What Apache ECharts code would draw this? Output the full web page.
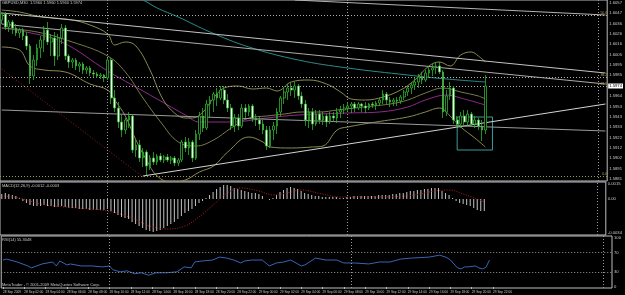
<!DOCTYPE html>
<html><head><meta charset="utf-8">
<script src="https://cdn.jsdelivr.net/npm/echarts@6/dist/echarts.min.js"></script>
<style>html,body{margin:0;padding:0;background:#000;}#c{width:625px;height:295px;}</style>
</head><body><div id="c"></div>
<script>
// ---------- data ----------
const timeLabels = ['28 Sep 2009','28 Sep 02:00','28 Sep 04:00','28 Sep 06:00','28 Sep 08:00','28 Sep 10:00','28 Sep 12:00','28 Sep 14:00','28 Sep 16:00','28 Sep 18:00','28 Sep 20:00','28 Sep 22:00','29 Sep 00:00','29 Sep 02:00','29 Sep 04:00','29 Sep 06:00','29 Sep 08:00','29 Sep 10:00','29 Sep 12:00','29 Sep 14:00','29 Sep 16:00','29 Sep 18:00','29 Sep 20:00','29 Sep 22:00'];

const opens = [1.6040,1.6046,1.6033,1.6038,1.6032,1.6027,1.6030,1.6024,1.6014,1.5984,
1.6000,1.6012,1.6020,1.6030,1.6018,1.6022,1.6004,1.6022,1.6032,1.6004,
1.5998,1.6000,1.5994,1.5996,1.5990,1.5992,1.5987,1.5986,1.5984,1.5985,
1.5982,1.6000,1.5962,1.5952,1.5938,1.5930,1.5940,1.5944,1.5910,1.5915,
1.5902,1.5908,1.5894,1.5902,1.5898,1.5904,1.5900,1.5903,1.5900,1.5902,
1.5897,1.5900,1.5918,1.5912,1.5918,1.5902,1.5926,1.5944,1.5932,1.5956,
1.5960,1.5966,1.5962,1.5970,1.5960,1.5952,1.5934,1.5942,1.5934,1.5952,
1.5948,1.5954,1.5942,1.5940,1.5936,1.5930,1.5914,1.5930,1.5934,1.5948,
1.5962,1.5968,1.5972,1.5970,1.5974,1.5964,1.5956,1.5940,1.5948,1.5936,
1.5946,1.5940,1.5944,1.5938,1.5944,1.5942,1.5948,1.5950,1.5952,1.5954,
1.5956,1.5952,1.5956,1.5954,1.5952,1.5956,1.5955,1.5957,1.5960,1.5966,
1.5960,1.5958,1.5960,1.5959,1.5963,1.5968,1.5972,1.5975,1.5978,1.5983,
1.5980,1.5987,1.5990,1.5992,1.5994,1.5988,1.5948,1.5964,1.5972,1.5940,
1.5936,1.5944,1.5938,1.5946,1.5936,1.5940,1.5934,1.5930];
const highs = [1.6048,1.6048,1.6040,1.6040,1.6036,1.6032,1.6032,1.6028,1.6016,1.6005,
1.6016,1.6024,1.6034,1.6038,1.6026,1.6028,1.6026,1.6036,1.6035,1.6006,
1.6002,1.6002,1.5998,1.5998,1.5994,1.5994,1.5990,1.5988,1.5987,1.5986,
1.6002,1.6002,1.5970,1.5958,1.5945,1.5942,1.5948,1.5946,1.5920,1.5920,
1.5912,1.5910,1.5905,1.5908,1.5906,1.5907,1.5905,1.5906,1.5904,1.5904,
1.5902,1.5920,1.5923,1.5922,1.5920,1.5930,1.5948,1.5952,1.5960,1.5964,
1.5968,1.5972,1.5974,1.5974,1.5966,1.5956,1.5946,1.5946,1.5956,1.5956,
1.5956,1.5956,1.5946,1.5944,1.5940,1.5934,1.5934,1.5938,1.5952,1.5964,
1.5972,1.5976,1.5978,1.5978,1.5976,1.5968,1.5960,1.5952,1.5952,1.5950,
1.5950,1.5948,1.5946,1.5948,1.5948,1.5952,1.5954,1.5956,1.5958,1.5958,
1.5958,1.5958,1.5957,1.5958,1.5957,1.5958,1.5959,1.5962,1.5970,1.5968,
1.5963,1.5962,1.5963,1.5965,1.5970,1.5974,1.5978,1.5982,1.5986,1.5988,
1.5990,1.5994,1.5996,1.5998,1.5998,1.5990,1.5970,1.5978,1.5974,1.5944,
1.5948,1.5950,1.5950,1.5948,1.5944,1.5942,1.5940,1.5985];
const lows = [1.6036,1.6030,1.6028,1.6026,1.6024,1.6022,1.6020,1.6010,1.5976,1.5980,
1.5994,1.6002,1.6008,1.6015,1.6004,1.5994,1.6000,1.6016,1.6000,1.5992,
1.5992,1.5990,1.5988,1.5986,1.5986,1.5984,1.5983,1.5982,1.5981,1.5978,
1.5980,1.5956,1.5948,1.5932,1.5923,1.5926,1.5932,1.5907,1.5903,1.5898,
1.5893,1.5885,1.5890,1.5895,1.5895,1.5898,1.5897,1.5898,1.5896,1.5894,
1.5894,1.5898,1.5908,1.5905,1.5898,1.5900,1.5920,1.5928,1.5930,1.5942,
1.5948,1.5954,1.5960,1.5956,1.5948,1.5930,1.5928,1.5930,1.5932,1.5942,
1.5944,1.5938,1.5934,1.5930,1.5926,1.5910,1.5912,1.5920,1.5926,1.5944,
1.5956,1.5960,1.5964,1.5962,1.5960,1.5952,1.5934,1.5932,1.5930,1.5934,
1.5936,1.5935,1.5933,1.5936,1.5938,1.5937,1.5942,1.5946,1.5948,1.5947,
1.5948,1.5950,1.5948,1.5947,1.5950,1.5952,1.5950,1.5954,1.5956,1.5956,
1.5953,1.5954,1.5954,1.5956,1.5960,1.5964,1.5966,1.5970,1.5972,1.5976,
1.5978,1.5982,1.5984,1.5986,1.5986,1.5942,1.5944,1.5960,1.5936,1.5932,
1.5932,1.5934,1.5934,1.5933,1.5932,1.5930,1.5919,1.5926];
const closes = [1.6046,1.6033,1.6038,1.6032,1.6027,1.6030,1.6024,1.6014,1.5984,1.6000,
1.6012,1.6020,1.6030,1.6018,1.6022,1.6004,1.6022,1.6032,1.6004,1.5998,
1.6000,1.5994,1.5996,1.5990,1.5992,1.5987,1.5986,1.5984,1.5985,1.5982,
1.6000,1.5962,1.5952,1.5938,1.5930,1.5940,1.5944,1.5910,1.5915,1.5902,
1.5908,1.5894,1.5902,1.5898,1.5904,1.5900,1.5903,1.5900,1.5902,1.5897,
1.5900,1.5918,1.5912,1.5918,1.5902,1.5926,1.5944,1.5932,1.5956,1.5960,
1.5966,1.5962,1.5970,1.5960,1.5952,1.5934,1.5942,1.5934,1.5952,1.5948,
1.5954,1.5942,1.5940,1.5936,1.5930,1.5914,1.5930,1.5934,1.5948,1.5962,
1.5968,1.5972,1.5970,1.5974,1.5964,1.5956,1.5940,1.5948,1.5936,1.5946,
1.5940,1.5944,1.5938,1.5944,1.5942,1.5948,1.5950,1.5952,1.5954,1.5956,
1.5952,1.5956,1.5954,1.5952,1.5956,1.5955,1.5957,1.5960,1.5966,1.5960,
1.5958,1.5960,1.5959,1.5963,1.5968,1.5972,1.5975,1.5978,1.5983,1.5980,
1.5987,1.5990,1.5992,1.5994,1.5988,1.5948,1.5964,1.5972,1.5940,1.5936,
1.5944,1.5938,1.5946,1.5936,1.5940,1.5934,1.5930,1.5974];

const priceTicks = [1.6057,1.6047,1.6036,1.6026,1.6016,1.6005,1.5995,1.5985,1.5964,1.5953,1.5943,1.5933,1.5922,1.5912,1.5902,1.5891,1.5881];
const lastPrice = 1.5974;
const fibValues = [1.6045, 1.5983, 1.5974, 1.5884];
const fibNames = ['50.0', '38.2', '23.6', '0.0'];
const separatorIdx = [30, 98, 169];
const boxIdx = [129, 139];
const boxPrice = [1.5943, 1.5910];

const bbUpIdx = [0,5,10,15,20,25,30,32,35,38,42,45,48,52,54,57,60,63,67,71,75,78,82,87,92,96,99,103,108,113,117,121,124,127,130,133,135,137];
const bbUpVal = [1.6050,1.6048,1.6044,1.6042,1.6040,1.6035,1.6026,1.6015,1.6018,1.6014,1.5990,1.5965,1.5950,1.5942,1.5942,1.5948,1.5962,1.5972,1.5974,1.5971,1.5972,1.5969,1.5978,1.5980,1.5976,1.5968,1.5961,1.5960,1.5963,1.5970,1.5980,1.5994,1.5998,1.5994,1.6005,1.6008,1.6004,1.5998];
const bbMidIdx = [0,10,20,30,35,40,45,50,55,60,65,70,75,80,85,90,95,100,105,110,115,120,125,130,135,137];
const bbMidVal = [1.6032,1.6028,1.6018,1.6004,1.5988,1.5962,1.5938,1.5918,1.5914,1.5920,1.5932,1.5942,1.5944,1.5946,1.5948,1.5948,1.5950,1.5952,1.5954,1.5956,1.5960,1.5967,1.5972,1.5968,1.5964,1.5961];
const bbLowIdx = [0,5,8,12,18,25,30,32,35,38,41,44,48,52,56,60,64,70,74,76,82,88,91,95,98,106,115,120,124,127,130,134,137];
const bbLowVal = [1.6013,1.6010,1.5994,1.5990,1.5988,1.5976,1.5970,1.5960,1.5944,1.5920,1.5900,1.5884,1.5878,1.5880,1.5888,1.5894,1.5908,1.5923,1.5918,1.5913,1.5912,1.5913,1.5914,1.5930,1.5933,1.5938,1.5943,1.5948,1.5952,1.5944,1.5933,1.5922,1.5913];
const maIdx = [0,7,17,30,40,48,52,56,65,75,84,98,107,115,120,126,130,137];
const maVal = [1.6032,1.6028,1.6018,1.5989,1.5969,1.5953,1.5945,1.5938,1.5938,1.5942,1.5945,1.5947,1.5948,1.5953,1.5960,1.5965,1.5962,1.5955];
const longMaIdx = [33,40,44,50,59,70,84,98,115,126,137];
const longMaVal = [1.6070,1.6060,1.6052,1.6043,1.6028,1.6013,1.6000,1.5992,1.5985,1.5981,1.5978];

// trendlines: start index, start price, end index, end price
const tlStartIdx = [83, 0, 0, 40, 0];
const tlStartVal = [1.6060, 1.6047, 1.6036, 1.5884, 1.5950];
const tlEndIdx = [171, 171, 171, 171, 171];
const tlEndVal = [1.6045, 1.5987, 1.5976, 1.5956, 1.5929];
const redLineIdx = [0, 40];
const redLineVal = [1.5991, 1.5883];

const macdHist = [0.0005,0.0006,0.0005,0.0004,0.0003,0.0001,-0.0002,-0.0004,-0.0006,-0.0007,
-0.0007,-0.0007,-0.0006,-0.0007,-0.0007,-0.0008,-0.0008,-0.0007,-0.0008,-0.0009,
-0.0009,-0.0009,-0.0010,-0.0010,-0.0010,-0.0011,-0.0011,-0.0011,-0.0011,-0.0011,
-0.0010,-0.0012,-0.0014,-0.0016,-0.0018,-0.0019,-0.0020,-0.0023,-0.0025,-0.0027,
-0.0029,-0.0031,-0.0032,-0.0033,-0.0032,-0.0031,-0.0029,-0.0027,-0.0025,-0.0023,
-0.0020,-0.0017,-0.0014,-0.0012,-0.0010,-0.0007,-0.0004,-0.0002,0.0001,0.0004,
0.0007,0.0010,0.0012,0.0014,0.0014,0.0013,0.0011,0.0010,0.0009,0.0008,
0.0007,0.0006,0.0006,0.0005,0.0003,0.0000,-0.0001,0.0001,0.0004,0.0007,
0.0009,0.0011,0.0012,0.0011,0.0010,0.0008,0.0006,0.0005,0.0004,0.0003,
0.0003,0.0002,0.0002,0.0002,0.0002,0.0002,0.0001,0.0001,0.0002,0.0002,
0.0003,0.0003,0.0003,0.0003,0.0003,0.0003,0.0003,0.0004,0.0004,0.0004,
0.0004,0.0005,0.0005,0.0006,0.0006,0.0007,0.0008,0.0008,0.0009,0.0009,
0.0010,0.0010,0.0011,0.0011,0.0011,0.0008,0.0006,0.0004,0.0001,-0.0002,
-0.0004,-0.0005,-0.0006,-0.0007,-0.0009,-0.0011,-0.0012,-0.0012];
const sigIdx = [0,5,11,18,30,37,42,47,52,56,60,64,68,73,77,81,85,91,96,103,115,123,127,131,137];
const sigVal = [0.0003,0.0001,-0.0005,-0.0008,-0.0012,-0.0019,-0.0027,-0.0030,-0.0027,-0.0018,-0.0006,0.0006,0.0011,0.0008,0.0004,0.0006,0.0009,0.0005,0.0002,0.0002,0.0003,0.0008,0.0009,0.0005,-0.0003];
const macdTicks = [0.0015, 0, -0.0034];

const rsiIdx = [0,1,4,7,8,11,14,15,16,18,19,22,25,28,30,31,33,35,37,39,41,43,46,49,51,53,54,56,59,61,63,65,67,68,70,73,75,77,79,81,84,85,88,91,94,96,99,103,106,109,112,115,120,123,125,126,128,129,130,131,133,134,135,136,137];
const rsiVal = [55,57,51,43,39,47,51,43,53,45,47,43,43,41,43,35,31,33,27,29,24,29,29,31,41,39,51,53,55,61,59,55,49,53,55,55,43,49,51,55,43,45,59,55,55,49,49,47,51,51,57,59,61,65,60,55,39,37,41,41,43,39,37,40,55];
const rsiTicks = [100, 70, 30, 0];
const rsiLevels = [70, 30];

// ---------- chart ----------
const TOTAL = 172;
const cats = Array.from({length: TOTAL}, (_, i) => 'b' + i);
const FG = '#c8c8c8';
const FONT = 'Liberation Sans';
const pts = (ix, v) => ix.map((x, k) => [x, v[k]]);
const candleData = opens.map((o, i) => [o, closes[i], lows[i], highs[i]]);

function lineSeries(data, color, extra) {
  return Object.assign({
    type: 'line', xAxisIndex: 0, yAxisIndex: 0, data: data, symbol: 'none',
    lineStyle: {color: color, width: 1}, silent: true, z: 3
  }, extra || {});
}
const sepStyle = {color: '#9a9a9a', type: [1, 2], width: 1};
const vSep = separatorIdx.map(x => ({xAxis: x, lineStyle: sepStyle}));

const series = [];
series.push({
  type: 'candlestick', xAxisIndex: 0, yAxisIndex: 0, data: candleData, barWidth: 2.2, z: 5,
  itemStyle: {color: '#000000', color0: '#f4fff4', borderColor: '#2fb02f', borderColor0: '#2fb02f', borderWidth: 0.8},
  markArea: {
    silent: true,
    itemStyle: {color: 'rgba(0,0,0,0)', borderColor: '#3a9c9c', borderWidth: 1, borderRadius: 2},
    data: [[{xAxis: boxIdx[0], yAxis: boxPrice[0]}, {xAxis: boxIdx[1], yAxis: boxPrice[1]}]]
  }
});
series.push(lineSeries(pts(longMaIdx, longMaVal), '#2a8c8c', {smooth: 0.4}));
series.push(lineSeries(pts(maIdx, maVal), '#8e2a8e', {smooth: 0.4}));
series.push(lineSeries(pts(bbUpIdx, bbUpVal), '#8a8a52', {smooth: 0.4}));
series.push(lineSeries(pts(bbMidIdx, bbMidVal), '#7a7a48', {smooth: 0.4,
  markLine: {
    silent: true, symbol: 'none', precision: 4,
    data: vSep.map(d => Object.assign({label: {show: false}}, d))
      .concat(fibValues.map((v, k) => ({
        yAxis: v,
        lineStyle: {color: k === 3 ? '#a09a40' : '#b0b0a8', type: [1, 2], width: 1},
        label: {show: true, position: 'insideEndTop', formatter: fibNames[k], color: '#b8a848', fontSize: 3.5, distance: 0, fontFamily: FONT}
      })))
      .concat([{yAxis: lastPrice, lineStyle: {color: 'rgba(0,0,0,0)', width: 0},
        label: {show: true, position: 'end', formatter: lastPrice.toFixed(4), color: '#000', backgroundColor: '#ffffff', fontSize: 4.2, padding: [0.5, 1], distance: 1, fontFamily: FONT}}])
  }}));
series.push(lineSeries(pts(bbLowIdx, bbLowVal), '#8a8a52', {smooth: 0.4}));
const tlColors = ['#b4b4b4', '#c4c4c4', '#acacac', '#d4d4d4', '#9a9a9a'];
tlStartIdx.forEach((s, k) => {
  series.push(lineSeries([[s, tlStartVal[k]], [tlEndIdx[k], tlEndVal[k]]], tlColors[k], {z: 4}));
});
series.push(lineSeries(pts(redLineIdx, redLineVal), '#8e2020', {lineStyle: {color: '#8e2020', width: 1, type: [1, 2]}}));

// MACD
series.push({
  type: 'bar', xAxisIndex: 1, yAxisIndex: 1, data: macdHist, barWidth: 1, silent: true,
  itemStyle: {color: '#c4c4c4'}
});
series.push({
  type: 'line', xAxisIndex: 1, yAxisIndex: 1, data: pts(sigIdx, sigVal), symbol: 'none', smooth: 0.4, silent: true,
  lineStyle: {color: '#b02020', width: 1, type: [1, 1.5]},
  markLine: {silent: true, symbol: 'none', label: {show: false}, data: vSep}
});
// RSI
series.push({
  type: 'line', xAxisIndex: 2, yAxisIndex: 2, data: pts(rsiIdx, rsiVal), symbol: 'none', silent: true,
  lineStyle: {color: '#3a64b4', width: 1},
  markLine: {silent: true, symbol: 'none', label: {show: false},
    data: vSep.concat(rsiLevels.map(v => ({yAxis: v, lineStyle: {color: '#9a9a9a', type: [1, 2], width: 1}})))}
});

const gridBase = {left: 0, right: 13, show: true, borderColor: '#bdbdbd', borderWidth: 1, backgroundColor: 'transparent'};
const xBase = (gi) => ({
  type: 'category', gridIndex: gi, data: cats, boundaryGap: true,
  axisLine: {show: false}, axisTick: {show: false}, axisLabel: {show: false}, splitLine: {show: false}
});
const xBottom = xBase(2);
xBottom.axisLabel = {show: true, interval: 0, align: 'left', margin: 2.5, color: FG, fontSize: 3.2, fontFamily: FONT,
  formatter: (v, i) => (i % 6 === 0 && timeLabels[i / 6]) ? timeLabels[i / 6] : ''};
xBottom.axisTick = {show: true, alignWithLabel: true, length: 2, lineStyle: {color: '#bdbdbd'},
  interval: (i) => i % 6 === 0 && (i / 6) < timeLabels.length};

const yLab = (vals, fmt) => ({show: true, customValues: vals, formatter: fmt, color: FG, fontSize: 4.2, margin: 2, fontFamily: FONT});

const option = {
  backgroundColor: '#000000',
  animation: false,
  textStyle: {fontFamily: FONT},
  grid: [
    Object.assign({top: 0, height: 181}, gridBase),
    Object.assign({top: 182, height: 53}, gridBase),
    Object.assign({top: 236, height: 52}, gridBase)
  ],
  xAxis: [xBase(0), xBase(1), xBottom],
  yAxis: [
    {type: 'value', gridIndex: 0, position: 'right', min: 1.5879, max: 1.6060, splitLine: {show: false},
      axisLine: {show: false}, axisTick: {show: false}, axisLabel: yLab(priceTicks, v => v.toFixed(4))},
    {type: 'value', gridIndex: 1, position: 'right', min: -0.0036, max: 0.0017, splitLine: {show: false},
      axisLine: {show: false}, axisTick: {show: false}, axisLabel: yLab(macdTicks, v => v === 0 ? '0.00' : v.toFixed(4))},
    {type: 'value', gridIndex: 2, position: 'right', min: -2, max: 104, splitLine: {show: false},
      axisLine: {show: false}, axisTick: {show: false}, axisLabel: yLab(rsiTicks, v => String(v))}
  ],
  graphic: [
    {type: 'text', left: 2, top: 1, z: 100, style: {text: 'GBPUSD,M30  1.5960 1.5960 1.5960 1.5974', fill: FG, font: '4px Liberation Sans'}},
    {type: 'text', left: 2, top: 184, z: 100, style: {text: 'MACD(12,26,9) -0.0012 -0.0003', fill: FG, font: '4px Liberation Sans'}},
    {type: 'text', left: 2, top: 238, z: 100, style: {text: 'RSI(14) 55.3048', fill: FG, font: '4px Liberation Sans'}},
    {type: 'text', left: 2, top: 283, z: 100, style: {text: 'MetaTrader - © 2001-2009 MetaQuotes Software Corp.', fill: FG, font: '4px Liberation Sans'}}
  ],
  series: series
};
const chart = echarts.init(document.getElementById('c'), null, {renderer: 'canvas'});
chart.setOption(option);
</script>
</body></html>
